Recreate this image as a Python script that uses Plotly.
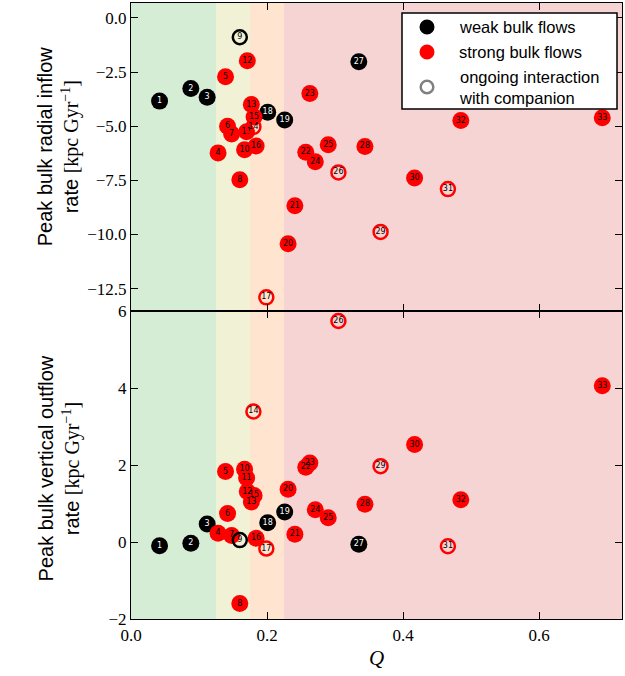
import plotly.graph_objects as go
from plotly.subplots import make_subplots

# ---------------- data ----------------
ids = list(range(1, 34))
Q = [0.042, 0.088, 0.112, 0.128, 0.139, 0.142, 0.148, 0.160, 0.160, 0.167,
     0.170, 0.171, 0.177, 0.180, 0.181, 0.184, 0.199, 0.201, 0.226, 0.231,
     0.241, 0.257, 0.263, 0.271, 0.290, 0.305, 0.335, 0.344, 0.367, 0.417,
     0.466, 0.485, 0.693]
inflow = [-3.84, -3.26, -3.66, -6.23, -2.72, -5.00, -5.36, -7.47, -0.89, -6.08,
          -5.25, -1.98, -4.00, -5.03, -4.57, -5.91, -12.90, -4.35, -4.71, -10.42,
          -8.67, -6.20, -3.49, -6.64, -5.85, -7.13, -2.02, -5.93, -9.88, -7.39,
          -7.90, -4.74, -4.61]
outflow = [-0.10, -0.03, 0.47, 0.23, 1.83, 0.74, 0.17, -1.60, 0.05, 1.89,
           1.66, 1.31, 1.04, 3.39, 1.21, 0.10, -0.17, 0.50, 0.78, 1.37,
           0.20, 1.94, 2.05, 0.84, 0.63, 5.74, -0.06, 0.98, 1.97, 2.53,
           -0.11, 1.10, 4.06]
weak = {1, 2, 3, 9, 18, 19, 27}
interacting = {9, 14, 17, 26, 29, 31}

inflow_threshold = -5.0
outflow_threshold = 1.0

bands = [(0.0, 0.125, "rgb(213,236,213)"),
         (0.125, 0.175, "rgb(241,242,213)"),
         (0.175, 0.225, "rgb(255,229,208)"),
         (0.225, 0.722, "rgb(246,212,212)")]

x_ticks = [0.0, 0.2, 0.4, 0.6]
top_ticks = [0.0, -2.5, -5.0, -7.5, -10.0, -12.5]
bot_ticks = [-2, 0, 2, 4, 6]

legend_labels = ["weak bulk flows", "strong bulk flows", "ongoing interaction<br>with companion"]

# ---------------- figure ----------------
W, H = 625, 676
ML, MR, MT, MB = 131, 3, 3, 57
PW, PH = W - ML - MR, H - MT - MB

def px2x(px):
    return (px - ML) / PW

def px2y(py):
    return 1 - (py - MT) / PH

fig = make_subplots(rows=2, cols=1, shared_xaxes=True, vertical_spacing=0)

for x0, x1, c in bands:
    fig.add_shape(type="rect", xref="x", yref="paper", x0=x0, x1=x1, y0=0, y1=1,
                  fillcolor=c, line_width=0, layer="below")

for row, thr in ((1, inflow_threshold), (2, outflow_threshold)):
    fig.add_hline(y=thr, line=dict(color="red", width=2, dash="8px,5px"), row=row, col=1)
    fig.add_hline(y=0, line=dict(color="black", width=2, dash="2px,4px"), row=row, col=1)

def subset(cond):
    return [i for i in range(len(ids)) if cond(ids[i])]

groups = [
    ("weak", lambda k: k in weak and k not in interacting, "black", "black", "white"),
    ("strong", lambda k: k not in weak and k not in interacting, "red", "red", "black"),
    ("weak-int", lambda k: k in weak and k in interacting, "rgba(0,0,0,0)", "black", "black"),
    ("strong-int", lambda k: k not in weak and k in interacting, "rgba(0,0,0,0)", "red", "black"),
]

for name, cond, fill, edge, tcol in groups:
    idx = subset(cond)
    hollow = fill.startswith("rgba")
    for row, vals in ((1, inflow), (2, outflow)):
        fig.add_trace(go.Scatter(
            x=[Q[i] for i in idx], y=[vals[i] for i in idx],
            text=[str(ids[i]) for i in idx],
            mode="markers+text", textposition="middle center",
            textfont=dict(size=8, color=tcol, family="DejaVu Sans"),
            marker=dict(size=14 if hollow else 17, color=fill,
                        line=dict(color=edge, width=2.5 if hollow else 0)),
            name=name, showlegend=False,
        ), row=row, col=1)

axis_common = dict(showgrid=False, zeroline=False, showline=True, linecolor="black",
                   linewidth=1.2, mirror="ticks", ticks="inside", ticklen=7,
                   tickwidth=1.2, tickcolor="black", automargin=False,
                   tickfont=dict(family="Liberation Serif", size=17, color="black"))

fig.update_xaxes(range=[0, 0.722], tickvals=x_ticks, tickformat=".1f", **axis_common)
fig.update_xaxes(title=dict(text="<i>Q</i>", font=dict(family="Liberation Serif", size=21, color="black"),
                            standoff=6), row=2, col=1)

fig.update_yaxes(range=[-13.53, 0.69], tickvals=top_ticks, tickformat=".1f",
                 row=1, col=1, **axis_common)
fig.update_yaxes(range=[-2, 6], tickvals=bot_ticks, tickformat="d",
                 row=2, col=1, **axis_common)

ser = "<span style='font-family:Liberation Serif'>[kpc Gyr<sup>−1</sup>]</span>"
for txt, yc in (("Peak bulk radial inflow<br>rate " + ser, 0.768),
                ("Peak bulk vertical outflow<br>rate " + ser, 0.245)):
    fig.add_annotation(text=txt, xref="paper", yref="paper", x=-0.146, y=yc,
                       xanchor="center", yanchor="middle", textangle=-90, showarrow=False,
                       font=dict(family="Liberation Sans", size=20, color="black"))

# ---- legend (drawn as shapes + text) ----
fig.add_shape(type="rect", xref="paper", yref="paper",
              x0=px2x(402), x1=px2x(617), y0=px2y(109), y1=px2y(13),
              fillcolor="white", line=dict(color="black", width=1.5), layer="above")
leg_styles = [("black", "black"), ("red", "red"), ("rgba(0,0,0,0)", "gray")]
leg_rows = [27, 52, 87]
for (fc, lc), ry, lab in zip(leg_styles, leg_rows, legend_labels):
    hollow = fc.startswith("rgba")
    r = 6.3 if hollow else 7.5
    fig.add_shape(type="circle", xref="paper", yref="paper",
                  xsizemode="pixel", ysizemode="pixel",
                  xanchor=px2x(427), yanchor=px2y(ry), x0=-r, x1=r, y0=-r, y1=r,
                  fillcolor=fc, line=dict(color=lc, width=2.5 if hollow else 0), layer="above")
    fig.add_annotation(text=lab, xref="paper", yref="paper", x=px2x(457), y=px2y(ry),
                       xanchor="left", yanchor="middle", align="left", showarrow=False,
                       font=dict(family="Liberation Sans", size=16.5, color="black"))

fig.update_layout(
    width=W, height=H,
    margin=dict(l=ML, r=MR, t=MT, b=MB, autoexpand=False),
    plot_bgcolor="white", paper_bgcolor="white",
    showlegend=False,
)

fig.write_html("out.html")
